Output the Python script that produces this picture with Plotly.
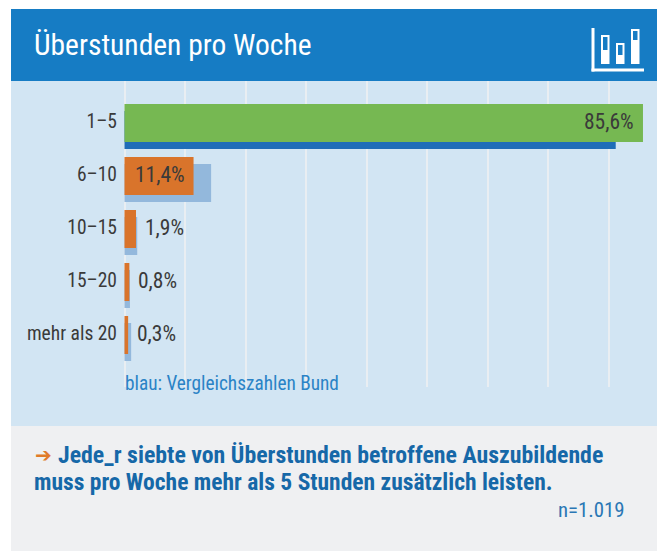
import plotly.graph_objects as go

categories = ["1–5", "6–10", "10–15", "15–20", "mehr als 20"]
values_survey = [85.6, 11.4, 1.9, 0.8, 0.6]
values_bund = [81.1, 14.3, 2.1, 0.9, 1.1]
value_labels = ["85,6%", "11,4%", "1,9%", "0,8%", "0,3%"]
bar_colors = ["#76B852", "#D9742B", "#D9742B", "#D9742B", "#D9742B"]
bund_colors = ["#1F6DB8", "#93B8DC", "#93B8DC", "#93B8DC", "#93B8DC"]

W, H = 657, 551
L, T, B = 124, 81, 387
FONT = "Roboto Condensed, Roboto, sans-serif"
PANEL, HEADER, FOOT = "#D2E5F3", "#167CC4", "#EFF0F2"
TXT = "#3A3A3A"
SCALE = 6.057

def px(x): return (x - L) / (W - L)
def py(y): return (B - y) / (B - T)

def rect(x0, y0, x1, y1, color, layer="below"):
    return dict(type="rect", xref="paper", yref="paper", x0=px(x0), x1=px(x1), y0=py(y0), y1=py(y1),
                fillcolor=color, line=dict(width=0), layer=layer)

shapes = [
    rect(0, 0, W, H, "#FFFFFF"),
    rect(11, 9, W, T, HEADER),
    rect(11, T, W, 426, PANEL),
    rect(11, 426, W, H, FOOT),
]
# header icon
shapes += [rect(591.5, 28, 594.5, 71.5, "#FFFFFF", "above"), rect(591.5, 68.5, 644, 71.5, "#FFFFFF", "above")]
for x0, x1, top, mid in [(601, 609.5, 35, 50), (616, 624.5, 43, 55), (631, 639.5, 29, 40)]:
    shapes += [rect(x0, top, x1, 64, "#FFFFFF", "above"), rect(x0 + 2, top + 2, x1 - 2, mid, HEADER, "above")]

fig = go.Figure()
bar_h = 38 / 53
fig.add_bar(y=categories, x=values_bund, orientation="h", name="Bund", width=bar_h, offset=-15.5 / 53,
            marker=dict(color=bund_colors, line=dict(width=0)), hoverinfo="skip")
fig.add_bar(y=categories, x=values_survey, orientation="h", name="Befragung", width=bar_h, offset=-22.5 / 53,
            marker=dict(color=bar_colors, line=dict(width=0)), hoverinfo="skip")

annotations = []
for i, (c, v, lab) in enumerate(zip(categories, values_survey, value_labels)):
    if i == 0:
        a = dict(x=v, xanchor="right", xshift=-7)
    elif i == 1:
        a = dict(x=v / 2, xanchor="center", xshift=1)
    else:
        a = dict(x=v, xanchor="left", xshift=7)
    annotations.append(dict(a, y=c, xref="x", yref="y", yshift=5, text=lab, showarrow=False,
                            font=dict(family=FONT, size=21.5, color=TXT)))

def note(x, y, text, size, color, anchor="left", family=FONT):
    return dict(xref="paper", yref="paper", x=px(x), y=py(y), text=text,
                xanchor=anchor, yanchor="middle", showarrow=False, font=dict(family=family, size=size, color=color))

annotations += [
    note(32, 45, "Überstunden pro Woche", 29.5, "#FFFFFF"),
    note(122.5, 383, "blau: Vergleichszahlen Bund", 19.3, "#2A83C6"),
    note(33, 455, "<b>➔</b>", 20, "#E07B2A", family="DejaVu Sans"),
    note(56, 454.5, "<b>Jede_r siebte von Überstunden betroffene Auszubildende</b>", 23.8, "#1668A8"),
    note(32, 482, "<b>muss pro Woche mehr als 5 Stunden zusätzlich leisten.</b>", 23.5, "#1668A8"),
    note(627, 510, "n=1.019", 20.8, "#2A77B5", anchor="right"),
]

fig.update_layout(
    width=W, height=H, autosize=False, barmode="overlay", showlegend=False,
    margin=dict(l=L, r=0, t=T, b=H - B, pad=0),
    paper_bgcolor="#FFFFFF", plot_bgcolor="rgba(0,0,0,0)",
    shapes=shapes, annotations=annotations,
    xaxis=dict(range=[-0.5 / SCALE, (W - L - 0.5) / SCALE], dtick=10, tick0=0, showticklabels=False, ticks="",
               showgrid=True, gridcolor="#E9EEF2", gridwidth=1.5, zeroline=True, zerolinecolor="#E9EEF2",
               zerolinewidth=1.5, fixedrange=True),
    yaxis=dict(type="category", categoryorder="array", categoryarray=categories,
               range=[(B - 126.5) / 53, (T - 126.5) / 53], showgrid=False, zeroline=False, ticks="",
               ticklabelstandoff=6, ticklabelshift=5, tickfont=dict(family=FONT, size=19.5, color=TXT), fixedrange=True),
)
fig.write_html("out.html", config={"displayModeBar": False},
               post_script="document.body.style.margin='0';document.body.style.overflow='hidden';")
